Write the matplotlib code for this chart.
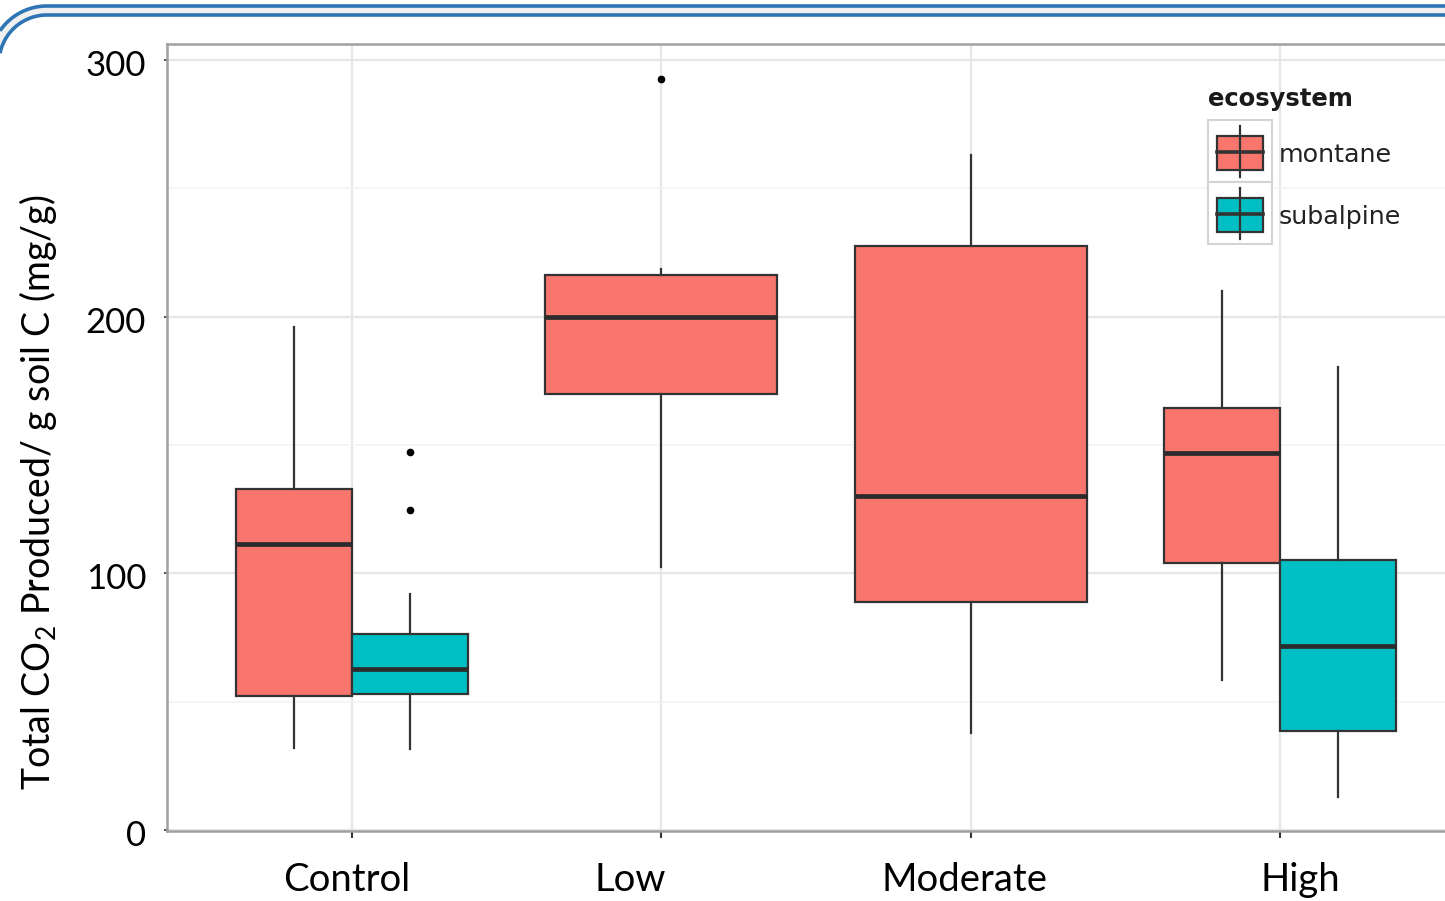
import numpy as np
import matplotlib
matplotlib.use("Agg")
import matplotlib.pyplot as plt
import matplotlib.transforms as mtransforms
from matplotlib.patches import Rectangle

plt.rcParams['font.family'] = ['Lato', 'DejaVu Sans']
plt.rcParams['mathtext.fontset'] = 'custom'
plt.rcParams['mathtext.rm'] = 'Lato'
plt.rcParams['mathtext.it'] = 'Lato:italic'

# Burn severity classes and ecosystems
treatments = ['Control', 'Low', 'Moderate', 'High']
ecosystems = ['montane', 'subalpine']
eco_colors = ['#F8766D', '#00BFC4']

# Box statistics per (treatment, ecosystem): whisker low, Q1, median, Q3, whisker high
montane_whislo = [32.1, 102.5, 37.7, 58.3]
montane_q1 = [52.3, 169.9, 88.7, 104.2]
montane_med = [111.6, 199.8, 130.2, 146.8]
montane_q3 = [132.7, 216.1, 227.5, 164.2]
montane_whishi = [196.1, 218.6, 263.1, 210.1]
montane_fliers = [[], [292.6], [], []]

# subalpine was only sampled at Control and High
subalpine_idx = [0, 3]
subalpine_whislo = [31.4, 13.0]
subalpine_q1 = [53.0, 38.6]
subalpine_med = [62.6, 71.8]
subalpine_q3 = [76.2, 105.3]
subalpine_whishi = [91.8, 180.4]
subalpine_fliers = [[147.3, 124.8], []]

W, H = 1445, 901
fig = plt.figure(figsize=(W / 100, H / 100), dpi=100)

# slide frame behind the chart (pixel coordinates)
bg = fig.add_axes([0, 0, 1, 1])
bg.set_xlim(0, W)
bg.set_ylim(H, 0)
bg.axis('off')
cx, cy = 47, 63
r_out, r_in = 57, 48
def frame_edge(r):
    a0 = np.arccos(-cx / r)
    t = np.linspace(a0, np.pi / 2, 60)
    xs = cx + r * np.cos(t)
    ys = cy - r * np.sin(t)
    return np.append(xs, W), np.append(ys, cy - r)
xo, yo = frame_edge(r_out)
xi, yi = frame_edge(r_in)
bg.fill(np.concatenate([xo, xi[::-1]]), np.concatenate([yo, yi[::-1]]),
        color='#f0f0f0', lw=0)
bg.plot(xo, yo, color='#2e75b6', lw=2.6, solid_capstyle='butt')
bg.plot(xi, yi, color='#2e75b6', lw=2.6, solid_capstyle='butt')

# main panel
ax = fig.add_axes([167 / W, 70 / H, 1278 / W, 787 / H])
ax.set_facecolor('white')
ax.set_xlim(-0.598, 3.534)
ax.set_ylim(-0.4, 306.2)

box_w = 0.375
line_c = '#333333'
common = dict(patch_artist=True, showcaps=False, shownotches=False,
              boxprops=dict(edgecolor=line_c, linewidth=1.6),
              medianprops=dict(color='#2b2b2b', linewidth=3.4),
              whiskerprops=dict(color=line_c, linewidth=1.6),
              flierprops=dict(marker='o', markersize=4.5, markerfacecolor='black',
                              markeredgecolor='black'))

# montane boxes, dodged when subalpine is present
m_stats, m_pos, m_wid = [], [], []
for i in range(len(treatments)):
    m_stats.append(dict(whislo=montane_whislo[i], q1=montane_q1[i], med=montane_med[i],
                        q3=montane_q3[i], whishi=montane_whishi[i], fliers=montane_fliers[i]))
    if i in subalpine_idx:
        m_pos.append(i - box_w / 2)
        m_wid.append(box_w)
    else:
        m_pos.append(i)
        m_wid.append(2 * box_w)
bp = ax.bxp(m_stats, positions=m_pos, widths=m_wid, **common)
for b in bp['boxes']:
    b.set_facecolor(eco_colors[0])

s_stats = []
for j in range(len(subalpine_idx)):
    s_stats.append(dict(whislo=subalpine_whislo[j], q1=subalpine_q1[j], med=subalpine_med[j],
                        q3=subalpine_q3[j], whishi=subalpine_whishi[j], fliers=subalpine_fliers[j]))
bp = ax.bxp(s_stats, positions=[i + box_w / 2 for i in subalpine_idx],
            widths=box_w, **common)
for b in bp['boxes']:
    b.set_facecolor(eco_colors[1])

# axes and grid
ax.set_xticks(range(len(treatments)))
ax.set_xticklabels(treatments, fontsize=27.5, color='black')
ax.set_yticks([0, 100, 200, 300])
ax.set_yticklabels(['0', '100', '200', '300'], fontsize=25, color='black')
ax.set_yticks([50, 150, 250], minor=True)
ax.tick_params(axis='x', length=5, width=1.5, color=line_c, pad=17)
ax.tick_params(axis='y', length=2, width=1.2, color=line_c, pad=13)
ax.tick_params(axis='y', which='minor', length=0)
ax.grid(True, which='major', color='#e6e6e6', lw=1.6)
ax.grid(True, which='minor', axis='y', color='#f3f3f3', lw=1.2)
ax.set_axisbelow(True)
for side in ['top', 'left', 'bottom']:
    ax.spines[side].set_color('#a0a0a0')
    ax.spines[side].set_linewidth(1.8)
ax.spines['right'].set_visible(False)

# category labels sit a little off their ticks
label_shift_px = [-5, -31, -6, 20]
for lab, dx in zip(ax.get_xticklabels(), label_shift_px):
    lab.set_transform(lab.get_transform() +
                      mtransforms.ScaledTranslation(dx / 100, 0, fig.dpi_scale_trans))
for lab in ax.get_yticklabels():
    lab.set_transform(lab.get_transform() +
                      mtransforms.ScaledTranslation(0, -3 / 100, fig.dpi_scale_trans))

fig.text(38 / W, 1 - 492 / H, 'Total CO$_2$ Produced/ g soil C (mg/g)',
         rotation=90, ha='center', va='center', fontsize=27)

# legend, drawn in pixel coordinates over the panel
lg = fig.add_axes([0, 0, 1, 1], facecolor='none')
lg.set_xlim(0, W)
lg.set_ylim(H, 0)
lg.axis('off')
lx, ly, key_w, key_h = 1208, 120, 64, 62
lg.text(lx, ly - 21, 'ecosystem', fontsize=17.5, fontweight='bold',
        family='DejaVu Sans', color='#1a1a1a', va='center', ha='left')
for k, (name, col) in enumerate(zip(ecosystems, eco_colors)):
    top = ly + k * key_h
    lg.add_patch(Rectangle((lx, top), key_w, key_h, fc='white', ec='#d4d4d4', lw=1.5))
    mid = lx + key_w / 2
    lg.plot([mid, mid], [top + 6, top + key_h - 5], color=line_c, lw=1.6)
    lg.add_patch(Rectangle((lx + 9, top + 16), key_w - 18, key_h - 28,
                           fc=col, ec=line_c, lw=1.6))
    lg.plot([lx + 9, lx + key_w - 9], [top + 32, top + 32], color=line_c, lw=2.6)
    lg.text(lx + 71, top + key_h / 2 + 4, name, fontsize=18.3, family='DejaVu Sans',
            color='#222222', va='center', ha='left')

fig.savefig('out.png', dpi=100, facecolor='white')
